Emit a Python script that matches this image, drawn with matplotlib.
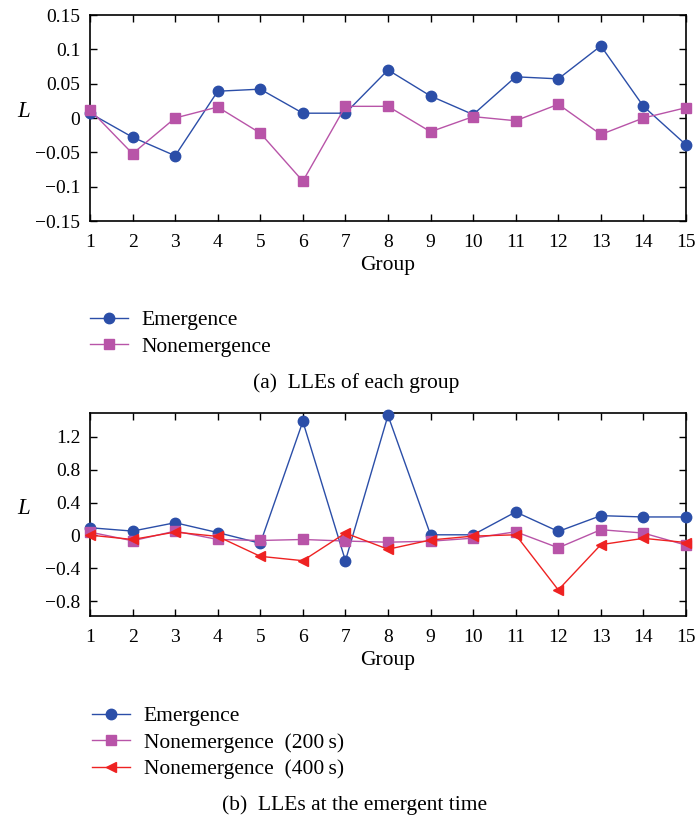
import matplotlib
matplotlib.use("Agg")
import matplotlib.pyplot as plt
from matplotlib.ticker import FixedLocator, FixedFormatter

plt.rcParams['font.family'] = ['Liberation Serif', 'DejaVu Serif']
plt.rcParams['mathtext.fontset'] = 'custom'
plt.rcParams['mathtext.it'] = 'Liberation Serif:italic'
FS = 14      # tick labels
TFS = 15.5   # other text

groups = list(range(1, 16))

# Panel (a): LLEs of each group
top_emergence = [0.007, -0.028, -0.055, 0.039, 0.042, 0.007, 0.007, 0.070,
                 0.032, 0.005, 0.060, 0.057, 0.105, 0.017, -0.039]
top_nonemergence = [0.012, -0.052, 0.0, 0.016, -0.022, -0.092, 0.017, 0.017,
                    -0.020, 0.002, -0.004, 0.020, -0.024, 0.0, 0.015]
top_yticks = [-0.15, -0.1, -0.05, 0, 0.05, 0.1, 0.15]
top_yticklabels = ['\u22120.15', '\u22120.1', '\u22120.05', '0', '0.05', '0.1', '0.15']

# Panel (b): LLEs at the emergent time
bot_emergence = [0.094, 0.053, 0.155, 0.035, -0.095, 1.387, -0.307, 1.46,
                 0.008, 0.008, 0.286, 0.049, 0.241, 0.225, 0.225]
bot_non200 = [0.041, -0.065, 0.053, -0.049, -0.061, -0.049, -0.068, -0.082,
              -0.070, -0.033, 0.045, -0.150, 0.070, 0.029, -0.118]
bot_non400 = [0.004, -0.049, 0.041, -0.012, -0.254, -0.307, 0.029, -0.168,
              -0.055, -0.008, 0.008, -0.663, -0.112, -0.035, -0.086]
bot_yticks = [-0.8, -0.4, 0, 0.4, 0.8, 1.2]
bot_yticklabels = ['\u22120.8', '\u22120.4', '0', '0.4', '0.8', '1.2']

BLUE = '#2b4ea8'
MAG = '#b854a8'
RED = '#ee2222'

fig = plt.figure(figsize=(6.97, 8.21), dpi=100)
W, H = 697, 821

def axes_px(l, t, r, b):
    return fig.add_axes([l / W, 1 - b / H, (r - l) / W, (b - t) / H])

def style(ax, yt, ytl, ylim):
    ax.set_xlim(1, 15)
    ax.set_ylim(*ylim)
    ax.xaxis.set_major_locator(FixedLocator(groups))
    ax.set_xticklabels([str(g) for g in groups])
    ax.yaxis.set_major_locator(FixedLocator(yt))
    ax.yaxis.set_major_formatter(FixedFormatter(ytl))
    ax.tick_params(direction='in', top=True, right=True, length=5, width=1,
                   labelsize=FS)
    ax.tick_params(axis='x', pad=9)
    ax.tick_params(axis='y', pad=7)
    for s in ax.spines.values():
        s.set_linewidth(1.2)
    ax.set_xlabel('Group', fontsize=TFS, labelpad=4)
    ax.set_ylabel('$L$', fontsize=TFS + 1, rotation=0, labelpad=0)

leg_kw = dict(loc='upper left', frameon=False, fontsize=TFS, handlelength=1.75,
              handletextpad=0.65, labelspacing=0.3, borderpad=0, borderaxespad=0)

ax1 = axes_px(90, 15, 686, 221)
l1, = ax1.plot(groups, top_emergence, color=BLUE, lw=1.0, marker='o', ms=7.5,
               clip_on=False, zorder=3, label='Emergence')
l2, = ax1.plot(groups, top_nonemergence, color=MAG, lw=1.0, marker='s', ms=7.5,
               clip_on=False, zorder=3, label='Nonemergence')
style(ax1, top_yticks, top_yticklabels, (-0.15, 0.15))
ax1.yaxis.set_label_coords(-0.11, 0.48)
fig.legend(handles=[l1, l2], bbox_to_anchor=(90 / W, 1 - 310 / H), **leg_kw)
fig.text(356 / W, 1 - 383 / H, '(a)  LLEs of each group', ha='center', va='center',
         fontsize=TFS)

ax2 = axes_px(90, 413, 686, 616)
m1, = ax2.plot(groups, bot_emergence, color=BLUE, lw=1.0, marker='o', ms=7.5,
               clip_on=False, zorder=3, label='Emergence')
m2, = ax2.plot(groups, bot_non200, color=MAG, lw=1.0, marker='s', ms=7.5,
               clip_on=False, zorder=3, label='Nonemergence  (200\u2009s)')
m3, = ax2.plot(groups, bot_non400, color=RED, lw=1.0, marker='<', ms=7.5,
               clip_on=False, zorder=4, label='Nonemergence  (400\u2009s)')
style(ax2, bot_yticks, bot_yticklabels, (-0.98, 1.49))
ax2.yaxis.set_label_coords(-0.11, 0.48)
fig.legend(handles=[m1, m2, m3], bbox_to_anchor=(92 / W, 1 - 706 / H), **leg_kw)
fig.text(355 / W, 1 - 805 / H, '(b)  LLEs at the emergent time', ha='center',
         va='center', fontsize=TFS)

fig.savefig('out.png', dpi=100)
